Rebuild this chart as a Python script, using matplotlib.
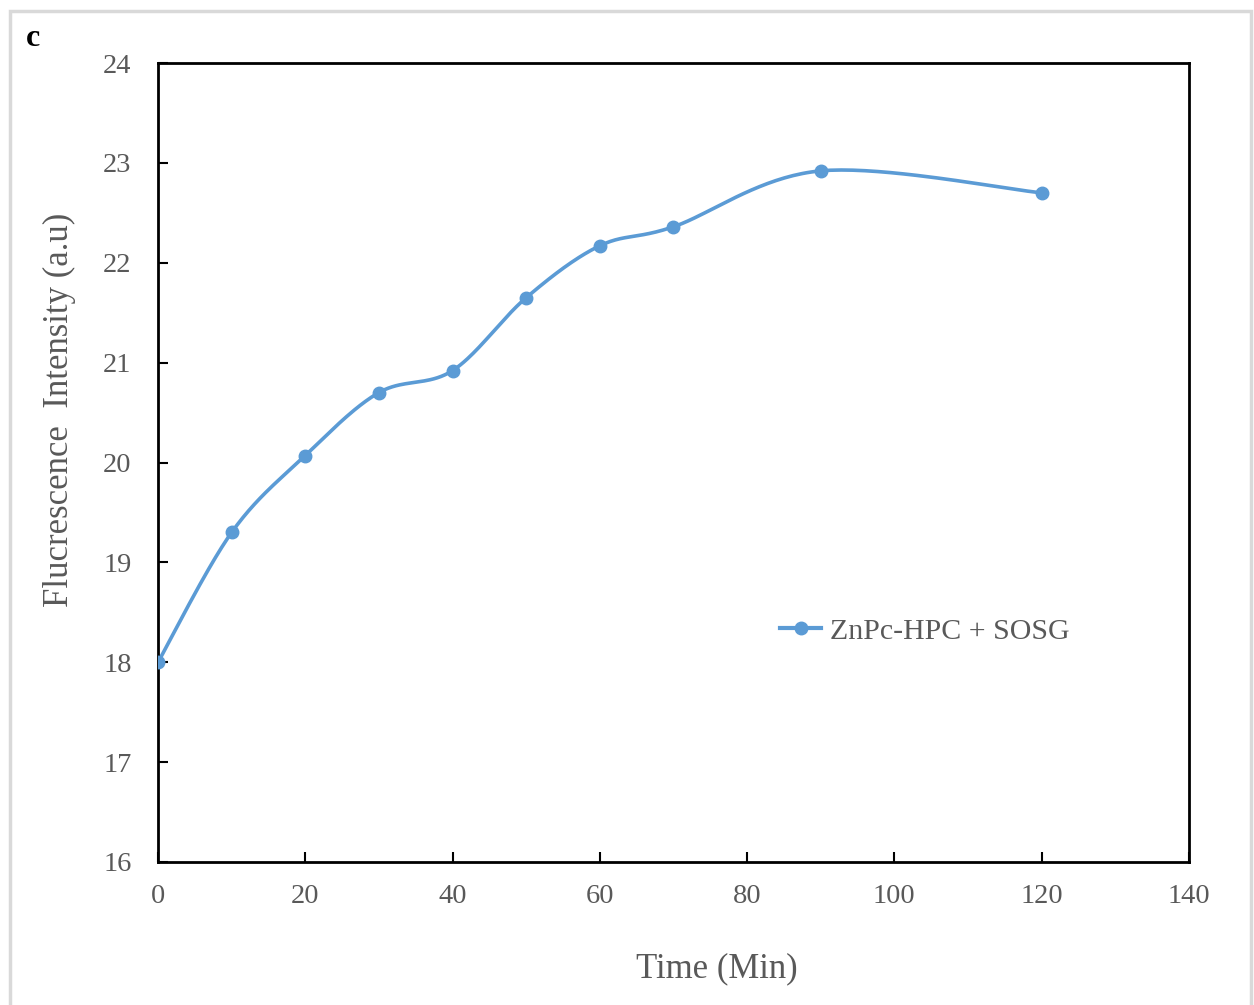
import numpy as np
import matplotlib.pyplot as plt
from matplotlib.patches import Rectangle

plt.rcParams['font.family'] = ['Liberation Serif', 'DejaVu Serif']

# data
time_min = [0, 10, 20, 30, 40, 50, 60, 70, 90, 120]
intensity = [18.0, 19.3, 20.07, 20.7, 20.92, 21.65, 22.17, 22.36, 22.92, 22.7]
x_ticks = [0, 20, 40, 60, 80, 100, 120, 140]
y_ticks = [16, 17, 18, 19, 20, 21, 22, 23, 24]

BLUE = '#5b9bd5'
GREY = '#595959'


def smooth(xs, ys, n=40):
    # Catmull-Rom style smoothing like Excel's "smoothed line"
    xs = np.asarray(xs, float)
    ys = np.asarray(ys, float)
    px = np.concatenate([[xs[0]], xs, [xs[-1]]])
    py = np.concatenate([[ys[0]], ys, [ys[-1]]])
    out_x, out_y = [], []
    for i in range(1, len(px) - 2):
        p0, p1, p2, p3 = (np.array([px[j], py[j]]) for j in (i - 1, i, i + 1, i + 2))
        c1 = p1 + (p2 - p0) / 6
        c2 = p2 - (p3 - p1) / 6
        t = np.linspace(0, 1, n)[:, None]
        b = ((1 - t) ** 3) * p1 + 3 * ((1 - t) ** 2) * t * c1 + 3 * (1 - t) * t ** 2 * c2 + t ** 3 * p2
        out_x.extend(b[:, 0])
        out_y.extend(b[:, 1])
    return out_x, out_y


fig = plt.figure(figsize=(12.54, 10.05), dpi=100)
ax = fig.add_axes([0.126, 0.1423, 0.822, 0.795])

sx, sy = smooth(time_min, intensity)
ax.plot(sx, sy, color=BLUE, lw=2.6, zorder=2)
ax.plot(time_min, intensity, 'o', color=BLUE, ms=9, zorder=3)
ax.plot([], [], '-o', color=BLUE, lw=3, ms=9, label='ZnPc-HPC + SOSG')

ax.set_xlim(0, 140)
ax.set_ylim(16, 24)
ax.set_xticks(x_ticks)
ax.set_yticks(y_ticks)
ax.tick_params(direction='in', length=7, width=1.5, colors='black',
               labelcolor=GREY, labelsize=20.5)
ax.tick_params(axis='x', pad=16)
ax.tick_params(axis='y', pad=19)
for s in ax.spines.values():
    s.set_linewidth(2)
    s.set_color('black')

ax.set_xlabel('Time (Min)', fontsize=25, color=GREY)
ax.xaxis.set_label_coords(0.542, -0.113)
ax.set_ylabel('Flucrescence  Intensity (a.u)', fontsize=25, color=GREY)
ax.yaxis.set_label_coords(-0.080, 0.566)

leg = ax.legend(loc='center left', bbox_to_anchor=(0.577, 0.289), frameon=False,
                fontsize=21.5, handlelength=1.4, handletextpad=0.3)
for t in leg.get_texts():
    t.set_color(GREY)

fig.text(33 / 1254, 1 - 38 / 1005, 'c', fontsize=23, fontweight='bold',
         ha='center', va='center')
fig.patches.append(Rectangle((0.008, -0.01), 0.99, 0.9995, transform=fig.transFigure,
                             fill=False, edgecolor='#d9d9d9', lw=2.5))

fig.savefig('out.png', dpi=100)
